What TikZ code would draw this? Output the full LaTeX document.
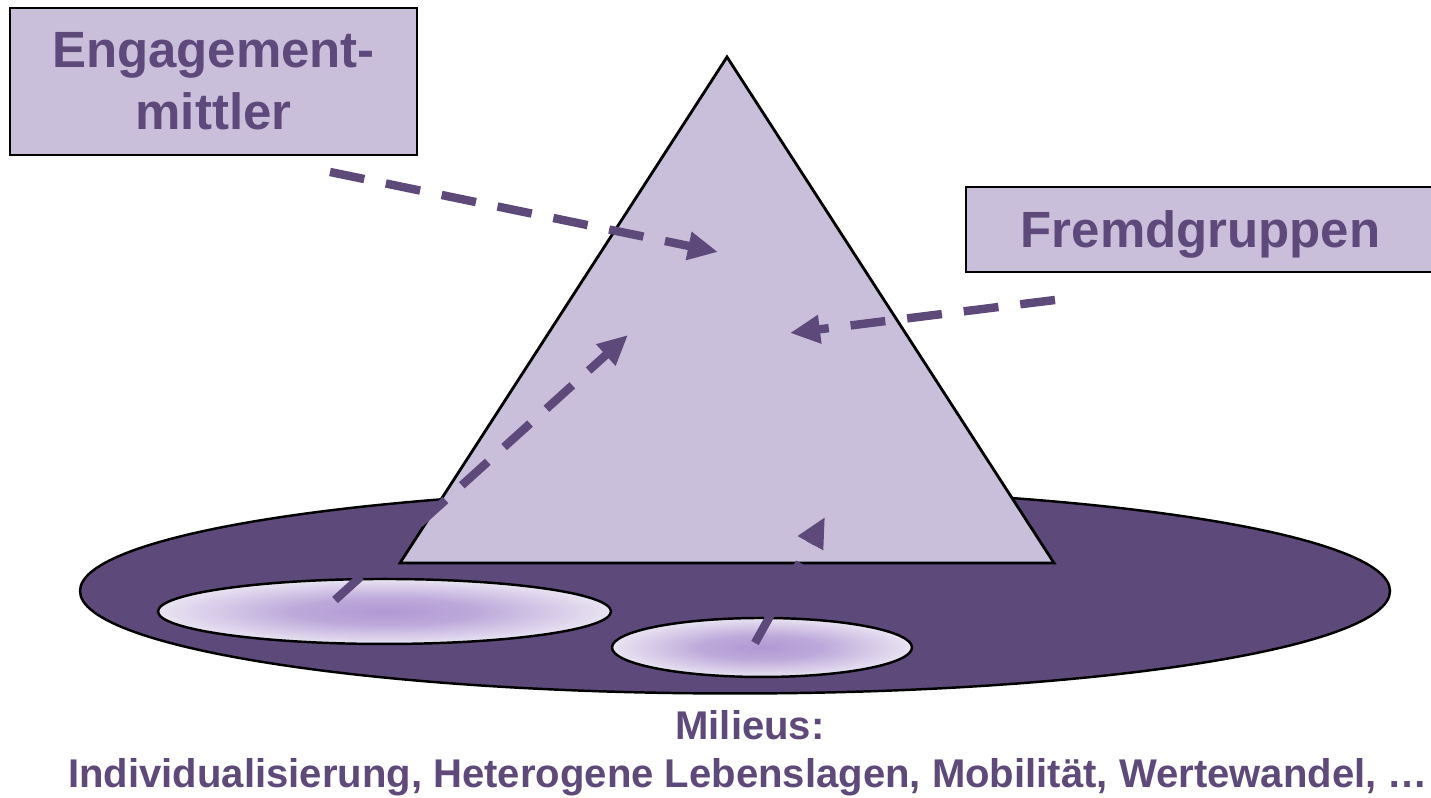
\documentclass[tikz,border=0pt]{standalone}
\usepackage{fontspec}
\setmainfont{Liberation Sans}
\usepackage{tikz}
\usetikzlibrary{arrows.meta,shapes.geometric}
\definecolor{plum}{HTML}{5E4A7A}
\definecolor{lilac}{HTML}{C9BFDA}
\definecolor{mistcore}{HTML}{B198D3}
\definecolor{mistedge}{HTML}{E9E4F2}
\pgfdeclareradialshading{mist}{\pgfpoint{0bp}{0bp}}{%
  color(0bp)=(mistcore); color(10bp)=(mistcore!78!mistedge); color(25bp)=(mistedge); color(50bp)=(mistedge)}

\begin{document}
\begin{tikzpicture}[
    actor/.style={rectangle, draw=black, line width=0.8pt, fill=lilac, text=plum, inner sep=0pt,
      font=\fontsize{14.5}{17.6}\selectfont\bfseries, align=center},
    pool/.style={ellipse, draw=black, line width=0.7pt, inner sep=0pt, shading=mist},
    flow/.style={plum, line width=2.4pt, dash pattern=on 0.35cm off 0.22cm, -{Triangle[length=0.3cm,width=0.27cm]}},
    caption/.style={text=plum, anchor=base, font=\fontsize{11.4}{13}\selectfont\bfseries}]
  \useasboundingbox (0,0) rectangle (14.31,7.98);
  % society
  \node (milieu) [ellipse, draw=black, line width=0.7pt, fill=plum, inner sep=0pt,
    minimum width=13.1cm, minimum height=2.05cm] at (7.35,2.07) {};
  \node (poolA) [pool, minimum width=4.53cm, minimum height=0.65cm] at (3.845,1.865) {};
  \node (poolB) [pool, minimum width=3.00cm, minimum height=0.59cm] at (7.62,1.505) {};
  % organisation
  \draw[black, line width=0.8pt, fill=lilac] (4.00,2.35) -- (7.27,7.41) -- (10.54,2.35) -- cycle;
  % actors
  \node (mittler) [actor, minimum width=4.07cm, minimum height=1.47cm] at (2.135,7.165) {Engagement-\\mittler};
  \node (fremd) [actor, text depth=0pt, minimum width=4.69cm, minimum height=0.85cm] at (12.005,5.685) {Fremdgruppen};
  % arrow ends
  \coordinate (mittlerOut) at (3.30,6.26);
  \coordinate (mittlerIn) at (7.18,5.46);
  \coordinate (fremdOut) at (10.55,4.98);
  \coordinate (fremdIn) at (7.90,4.65);
  \coordinate (poolAOut) at (3.35,1.98);
  \coordinate (poolAIn) at (6.28,4.63);
  \coordinate (poolBOut) at (7.55,1.55);
  \coordinate (poolBIn) at (8.25,2.81);
  \draw[flow] (mittlerOut) -- (mittlerIn);
  \draw[flow] (fremdOut) -- (fremdIn);
  \draw[flow] (poolAOut) -- (poolAIn);
  \draw[flow] (poolBOut) -- (poolBIn);
  % labels
  \node (milieuTitle) [caption] at (7.50,0.58) {Milieus:};
  \node (milieuList) [caption] at (7.48,0.10) {Individualisierung, Heterogene Lebenslagen, Mobilität, Wertewandel, …};
\end{tikzpicture}
\end{document}
